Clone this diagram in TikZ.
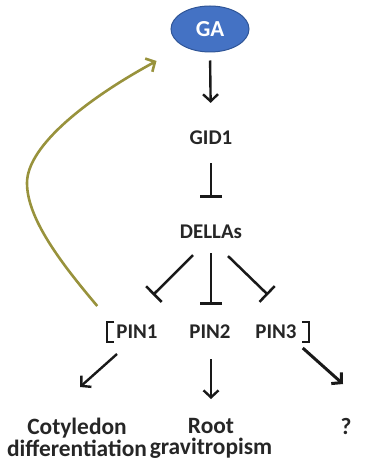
\documentclass[tikz,border=0pt]{standalone}
\usepackage{fontspec}
\setmainfont{Carlito}
\usetikzlibrary{arrows.meta,shapes.geometric,calc}
\definecolor{gablue}{RGB}{68,114,196}
\definecolor{gaedge}{RGB}{47,85,151}
\definecolor{loopolive}{RGB}{152,146,60}
\begin{document}
\begin{tikzpicture}[x=1bp,y=-1bp,
  lbl/.style={font=\bfseries\fontsize{21}{24}\selectfont, inner sep=0pt, text=black!85},
  outcome/.style={font=\bfseries\fontsize{23.5}{21.5}\selectfont, inner sep=0pt, align=center, text=black!85},
  act/.style={line width=2.4bp, draw=black!90, -{Straight Barb[length=7bp,width=15bp]}},
  inh/.style={line width=2.5bp, draw=black!90, -{Bar[width=22bp]}},
  bracket/.style={line width=2bp, draw=black!90},
  feedback/.style={line width=2.6bp, draw=loopolive, -{Straight Barb[length=7bp,width=15bp]}}]
\useasboundingbox (0,0) rectangle (366,466);

% signalling components
\node[ellipse, fill=gablue, draw=gaedge, line width=1bp, minimum width=78bp, minimum height=46bp,
      font=\bfseries\fontsize{23}{26}\selectfont, text=white, inner sep=0pt] (ga) at (210,29) {GA};
\node[lbl] (gid1) at (211,138) {GID1};
\node[lbl] (dellas) at (211,232) {DELLAs};
\node[lbl] (pin1) at (137,332) {PIN1};
\node[lbl] (pin2) at (210,332) {PIN2};
\node[lbl] (pin3) at (276,332) {PIN3};

% developmental outputs
\node[outcome, anchor=north] (cot) at (77,418) {Cotyledon\\differentiation};
\node[outcome, anchor=north] (root) at (211,418) {Root\\gravitropism};
\node[outcome, anchor=north] (unk) at (346,418) {?};

% GA perception and DELLA repression
\draw[act, shorten <=8bp, shorten >=28bp] (ga.south) -- (gid1.north);
\draw[inh, shorten <=18bp, shorten >=27bp] (gid1.south) -- (dellas.north);

\draw[inh] ($(dellas.south)+(-18,16)$) -- ($(pin1.north)+(16,-30)$);
\draw[inh] ($(dellas.south)+(0,14)$) -- ($(pin2.north)+(1,-20)$);
\draw[inh] ($(dellas.south)+(17,17)$) -- ($(pin3.north)+(-8,-30)$);

% bracket around the PIN family
\draw[bracket] ($(pin1.west)+(-2,-10)$) -- ++(-7,0) -- ++(0,20) -- ++(7,0);
\draw[bracket] ($(pin3.east)+(5,-10)$) -- ++(7,0) -- ++(0,20) -- ++(-7,0);

% PIN-dependent outputs
\draw[act] ($(pin1.south)+(-20,15)$) -- ($(cot.north)+(3,-31)$);
\draw[act] ($(pin2.south)+(1,20)$) -- ($(root.north)+(0,-19)$);
\draw[act, line width=3bp] ($(pin3.east)+(6,16)$) -- ($(unk.north)+(-3,-34)$);

% PIN1 feedback on GA
\draw[feedback] ($(pin1.west)+(-19,-26)$)
  .. controls (60,262) and (27,218) .. (27,183)
  .. controls (27,145) and (90,97) .. ($(ga.west)+(-14,32)$);
\end{tikzpicture}
\end{document}
